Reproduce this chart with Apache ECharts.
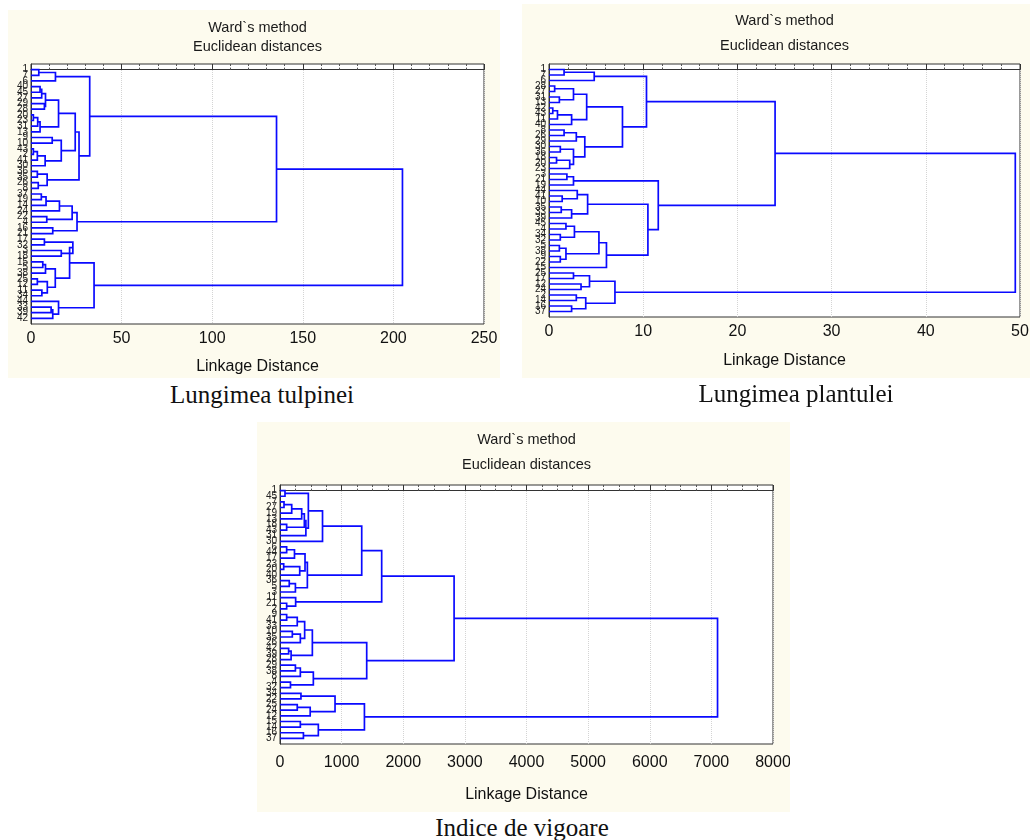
<!DOCTYPE html>
<html>
<head>
<meta charset="utf-8">
<script src="https://cdn.jsdelivr.net/npm/echarts@6/dist/echarts.min.js"></script>
<style>
  body { margin: 0; background: #fff; width: 1034px; height: 840px; position: relative; overflow: hidden; }
  .panel { position: absolute; background: #fdfbee; }
  .cap { position: absolute; font-family: 'Liberation Serif', 'Times New Roman', serif; font-size: 25px; color: #111;
         transform: translate(-50%, -50%); white-space: nowrap; }
</style>
</head>
<body>
<div id="c1" class="panel" style="left:8px;top:10px;width:492px;height:368px"></div>
<div id="c2" class="panel" style="left:522px;top:4px;width:508px;height:374px"></div>
<div id="c3" class="panel" style="left:257px;top:422px;width:533px;height:390px"></div>
<div class="cap" style="left:262px;top:395px">Lungimea tulpinei</div>
<div class="cap" style="left:796px;top:394px">Lungimea plantulei</div>
<div class="cap" style="left:522px;top:828px">Indice de vigoare</div>
<script>
// leaf labels, top to bottom
const leaves1 = ['1','7','6','40','45','27','29','28','20','23','31','13','9','10','43','2','41','30','36','35','26','8','37','19','14',
  '24','22','4','16','21','17','32','3','18','15','5','38','25','12','11','34','44','33','39','42'];
const leaves2 = ['1','7','6','28','27','31','13','42','43','11','40','8','26','29','30','36','18','20','23','3','21','19','44','41','10',
  '35','33','39','45','4','34','32','5','38','9','22','15','25','17','12','24','2','14','16','37'];
const leaves3 = ['1','45','7','27','19','13','18','43','31','30','6','44','17','23','20','40','36','5','3','11','21','2','9','41','33',
  '10','35','26','42','39','28','29','38','8','4','32','34','22','25','24','12','15','14','16','37'];

// trees: [left, right, linkage distance], leaves are row indexes
const tree1 = [
  [
    [ [[0,1,4.3],2,13.5],
      [ [ [ [[[3,4,5.0],5,5.9],[6,7,7.4],8.0], [[[8,9,1.3],10,3.7],11,5.0], 15.2 ],
          [ [12,13,11.7], [[[14,15,1.3],16,3.5],17,7.8], 16.7 ], 24.4 ],
        [[18,19,3.5],[20,21,4.0],8.9], 26.5 ], 32.4 ],
    [ [ [[[22,23,5.7],24,8.3],25,15.7], [26,27,8.7], 22.7 ], [28,29,12.0], 25.4 ],
    135.5
  ],
  [
    [ [[30,31,7.4],[32,33,16.7],23.1], [[[34,35,6.5],36,8.0],[[37,38,3.5],[39,40,6.0],9.0],13.4], 21.3 ],
    [41,[[42,43,11.1],44,12.0],15.2],
    34.8
  ],
  205
];
const tree2 = [
  [
    [ [[0,1,1.6],2,4.8],
      [ [ [[3,4,0.6],[5,6,1.1],2.6], [[[7,8,0.4],9,0.9],10,2.4], 4.0 ],
        [ [[11,12,1.6],13,2.9], [[14,15,1.2],[[16,17,0.8],18,2.2],2.6], 3.8 ], 7.8 ], 10.35 ],
    [ [[19,20,1.9],21,2.6],
      [ [[22,[23,24,1.4],3.0],[[25,26,1.3],27,2.4],4.1],
        [ [ [[28,29,1.8],[30,31,1.2],2.7], [[32,33,1.1],[34,35,1.2],1.8], 5.3 ], 36, 6.1 ], 10.5 ], 11.6 ],
    24.0
  ],
  [ [[37,38,2.6],[39,40,3.4],4.3], [[41,42,2.9],[43,44,2.4],3.9], 7.0 ],
  49.5
];
const tree3 = [
  [
    [ [ [ [[0,1,81], [[[[[2,3,65],4,190],5,352],[6,7,108],395],8,420], 460], 9, 690 ],
        [ [[[10,11,108],12,235],[[13,14,60],15,320],406], [[16,17,150],18,250], 444 ], 1326 ],
      [19,[20,21,108],254], 1650 ],
    [ [ [[[22,23,108],24,280],[[25,26,200],27,330],400], [[28,29,140],30,180], 525 ],
      [ [[31,32,250],33,330], [34,35,170], 541 ], 1407 ],
    2825
  ],
  [ [[36,37,340],[[38,39,280],40,490],893], [[41,42,330],[43,44,380],622], 1370 ],
  7100
];

const FONT = "'Liberation Sans', Arial, sans-serif";
const BLUE = '#0a0aff';

// turn the tree into U-shaped links in data coordinates
function links(tree) {
  const out = [];
  const walk = (n) => {
    if (typeof n === 'number') return { y: n, h: 0 };
    const a = walk(n[0]);
    const b = walk(n[1]);
    out.push([[a.h, a.y], [n[2], a.y], [n[2], b.y], [b.h, b.y]]);
    return { y: (a.y + b.y) / 2, h: n[2] };
  };
  walk(tree);
  return out;
}

function makeChart(id, cfg) {
  const chart = echarts.init(document.getElementById(id), null, { renderer: 'canvas' });
  const g = cfg.grid;
  const tx = g.left + (cfg.w - g.left - g.right) / 2;
  const text = (t, y) => ({
    type: 'text', x: tx, y: y, silent: true,
    style: { text: t, font: '14.5px ' + FONT, fill: '#1a1a1a', textAlign: 'center', textVerticalAlign: 'middle',
             align: 'center', verticalAlign: 'middle' }
  });
  const xBase = {
    type: 'value', min: 0, max: cfg.max, interval: cfg.interval,
    axisTick: { show: true, inside: true, length: 3, lineStyle: { color: '#333' } },
    minorTick: { show: true, splitNumber: cfg.minor, length: 2, lineStyle: { color: '#555' } },
  };
  chart.setOption({
    animation: false,
    backgroundColor: 'transparent',
    grid: { left: g.left, top: g.top, right: g.right, bottom: g.bottom, show: true, backgroundColor: '#fff',
            borderColor: '#333', borderWidth: 1, containLabel: false, outerBoundsMode: 'none' },
    graphic: [text('Ward`s method', cfg.t1), text('Euclidean distances', cfg.t2)],
    xAxis: [
      Object.assign({}, xBase, {
        position: 'bottom',
        axisLine: { show: true, lineStyle: { color: '#333' } },
        axisLabel: { fontSize: 16, color: '#111', fontFamily: FONT, margin: cfg.labelMargin,
                     formatter: (v) => String(v) },
        splitLine: { show: true, lineStyle: { color: '#d4d4d4', type: 'dotted' } },
        name: 'Linkage Distance', nameLocation: 'middle', nameGap: cfg.nameGap,
        nameTextStyle: { fontSize: 16, color: '#111', fontFamily: FONT }
      }),
      Object.assign({}, xBase, {
        position: 'top',
        axisLine: { show: false },
        axisLabel: { show: false },
        splitLine: { show: false }
      })
    ],
    yAxis: {
      type: 'value', inverse: true, min: -1, max: 45, interval: 1,
      axisLine: { show: true, lineStyle: { color: '#333' } },
      axisTick: { show: false },
      splitLine: { show: false },
      axisLabel: { fontSize: 10, color: '#222', fontFamily: FONT, margin: 3,
                   formatter: (v) => cfg.leaves[v] || '' }
    },
    series: [{
      type: 'lines', coordinateSystem: 'cartesian2d', polyline: true,
      xAxisIndex: 0, yAxisIndex: 0, silent: true, z: 5,
      lineStyle: { color: BLUE, width: 1.7, opacity: 1 },
      data: links(cfg.tree).map((c) => ({ coords: c }))
    }]
  });
  return chart;
}

makeChart('c1', { w: 492, leaves: leaves1, tree: tree1, max: 250, interval: 50, minor: 5,
  grid: { left: 23, top: 54, right: 16, bottom: 54 }, t1: 18, t2: 37, labelMargin: 7, nameGap: 35 });
makeChart('c2', { w: 508, leaves: leaves2, tree: tree2, max: 50, interval: 10, minor: 5,
  grid: { left: 27, top: 60, right: 10, bottom: 61 }, t1: 17, t2: 42, labelMargin: 7, nameGap: 36 });
makeChart('c3', { w: 533, leaves: leaves3, tree: tree3, max: 8000, interval: 1000, minor: 4,
  grid: { left: 23, top: 63, right: 17, bottom: 68 }, t1: 18, t2: 43, labelMargin: 11, nameGap: 43 });
</script>
</body>
</html>
